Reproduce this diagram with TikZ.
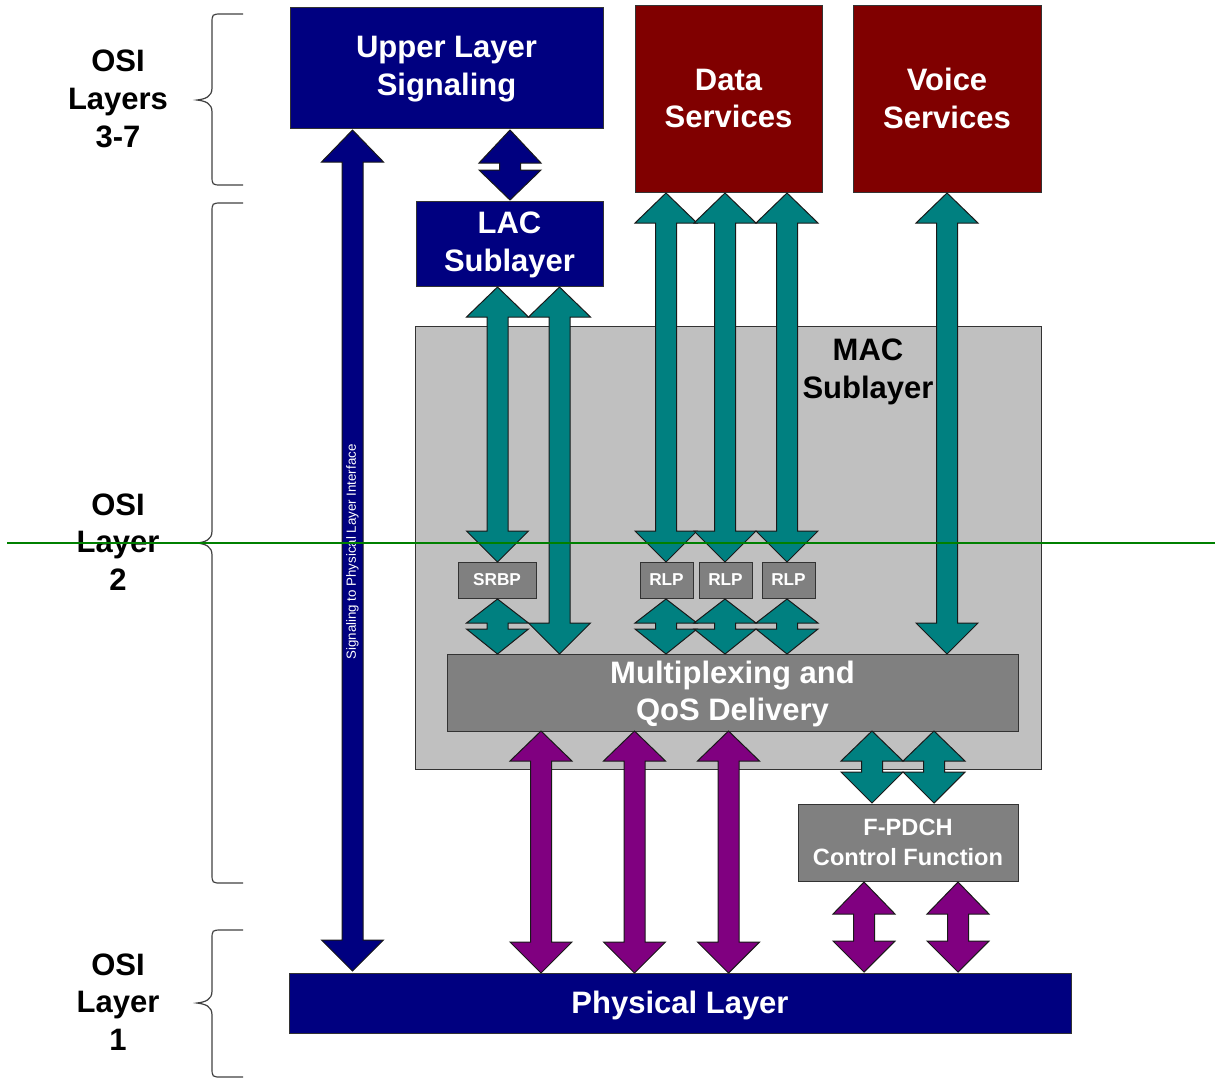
\documentclass[tikz,border=0pt]{standalone}
\usepackage{fontspec}
\setmainfont{Liberation Sans}
\definecolor{navyc}{RGB}{0,0,128}
\definecolor{darkredc}{RGB}{128,0,0}
\definecolor{tealc}{RGB}{0,128,128}
\definecolor{purplec}{RGB}{128,0,128}
\definecolor{macgray}{RGB}{192,192,192}
\definecolor{boxgray}{RGB}{128,128,128}
\definecolor{greenl}{RGB}{0,128,0}
\newcommand{\bigfont}{\fontsize{15.5}{18.9}\selectfont\bfseries}
\newcommand{\midfont}{\fontsize{11.8}{15}\selectfont\bfseries}
\newcommand{\smallfont}{\fontsize{8.6}{10}\selectfont\bfseries}
% #1 colour, #2 centre x, #3 top tip y, #4 top head base y, #5 bottom head base y, #6 bottom tip y
\newcommand{\blkarrow}[6]{%
  \filldraw[blockarrow, fill=#1] (#2,#3) -- (#2+31,#4) -- (#2+10.5,#4) -- (#2+10.5,#5)
    -- (#2+31,#5) -- (#2,#6) -- (#2-31,#5) -- (#2-10.5,#5) -- (#2-10.5,#4) -- (#2-31,#4) -- cycle;}
% #1 top y, #2 tip y, #3 bottom y
\newcommand{\osibrace}[3]{%
  \draw[bracestyle] (243,#1) -- (222,#1) .. controls (212,#1) .. (212,#1+10) -- (212,#2-12)
    .. controls (212,#2-3) and (205,#2-1) .. (197,#2) .. controls (205,#2+1) and (212,#2+3) .. (212,#2+12)
    -- (212,#3-10) .. controls (212,#3) .. (222,#3) -- (243,#3);}
\tikzset{
  box/.style={draw=black!80, line width=0.5pt, inner sep=0pt, outer sep=0pt, text=white, align=center, font=\bigfont},
  boxtext/.style={inner sep=0pt, text=white, align=center, font=\bigfont},
  blockarrow/.style={draw=black!90, line width=0.5pt, line join=miter},
  bracestyle/.style={draw=black!75, line width=0.6pt},
  osilabel/.style={align=center, font=\bigfont, text=black, inner sep=0pt},
}
\begin{document}
\begin{tikzpicture}[x=0.5pt,y=-0.5pt]
\useasboundingbox (0,0) rectangle (1218,1078);
% MAC sublayer background
\node[box, fill=macgray, minimum width=313pt, minimum height=221.5pt] (mac) at (728,547.5) {};
\node[osilabel] (maclabel) at (868,372) {MAC\\Sublayer};
% boxes
\node[box, fill=navyc, minimum width=156.5pt, minimum height=60.5pt] (upper) at (446.5,67.5) {};
\node[boxtext] (uppert) at (446.5,69.5) {Upper Layer\\Signaling};
\node[box, fill=darkredc, minimum width=93.5pt, minimum height=93.5pt] (data) at (728.5,98.5) {Data\\Services};
\node[box, fill=darkredc, minimum width=94pt, minimum height=93.5pt] (voice) at (947,98.5) {Voice\\Services};
\node[box, fill=navyc, minimum width=93.5pt, minimum height=42.5pt] (lac) at (509.5,243.5) {};
\node[boxtext] (lact) at (509.5,245) {LAC\\Sublayer};
\node[box, fill=boxgray, font=\smallfont, minimum width=39pt, minimum height=18pt] (srbp) at (497,580) {SRBP};
\node[box, fill=boxgray, font=\smallfont, minimum width=26.5pt, minimum height=18pt] (rlp1) at (666.5,580) {RLP};
\node[box, fill=boxgray, font=\smallfont, minimum width=26.5pt, minimum height=18pt] (rlp2) at (725.5,580) {RLP};
\node[box, fill=boxgray, font=\smallfont, minimum width=26.5pt, minimum height=18pt] (rlp3) at (788.5,580) {RLP};
\node[box, fill=boxgray, minimum width=285.5pt, minimum height=38.5pt] (mux) at (732.5,692.5) {};
\node[boxtext] (muxt) at (732.5,694) {Multiplexing and\\QoS Delivery};
\node[box, fill=boxgray, font=\midfont, minimum width=110pt, minimum height=38.5pt] (fpdch) at (908,842.5) {F-PDCH\\Control Function};
\node[box, fill=navyc, minimum width=391pt, minimum height=30pt] (phys) at (680,1003) {};
\node[boxtext] (physt) at (680,1005) {Physical Layer};
% navy arrows
\blkarrow{navyc}{352.5}{130}{162}{940}{971}
\blkarrow{navyc}{510}{130}{163}{170}{200}
\node[rotate=90, text=white, inner sep=0pt, font=\fontsize{6.65}{8}\selectfont] (sig) at (352.5,552) {Signaling to Physical Layer Interface};
% teal arrows
\blkarrow{tealc}{497.5}{287}{317}{531}{562}
\blkarrow{tealc}{559.5}{287}{317}{623}{654}
\blkarrow{tealc}{666}{193}{223}{531}{562}
\blkarrow{tealc}{725}{193}{223}{531}{562}
\blkarrow{tealc}{787}{193}{223}{531}{562}
\blkarrow{tealc}{947}{193}{223}{623}{654}
\blkarrow{tealc}{497.5}{599}{623}{629}{654}
\blkarrow{tealc}{666}{599}{623}{629}{654}
\blkarrow{tealc}{725}{599}{623}{629}{654}
\blkarrow{tealc}{787}{599}{623}{629}{654}
\blkarrow{tealc}{872}{731}{761}{772}{803}
\blkarrow{tealc}{934}{731}{761}{772}{803}
% purple arrows
\blkarrow{purplec}{541}{731}{761}{942}{973}
\blkarrow{purplec}{634.5}{731}{761}{942}{973}
\blkarrow{purplec}{728.5}{731}{761}{942}{973}
\blkarrow{purplec}{864}{882}{914}{941}{972}
\blkarrow{purplec}{958}{882}{914}{941}{972}
% OSI braces and labels
\osibrace{14}{100}{185}
\osibrace{203}{543}{883}
\osibrace{930}{1003}{1077}
\node[osilabel] (l37) at (118,99) {OSI\\Layers\\3-7};
\node[osilabel] (l2) at (118,542) {OSI\\Layer\\2};
\node[osilabel] (l1) at (118,1002) {OSI\\Layer\\1};
% green line
\coordinate (gl) at (7,543);
\coordinate (gr) at (1215,543);
\draw[greenl, line width=0.75pt] (gl) -- (gr);
\end{tikzpicture}
\end{document}
